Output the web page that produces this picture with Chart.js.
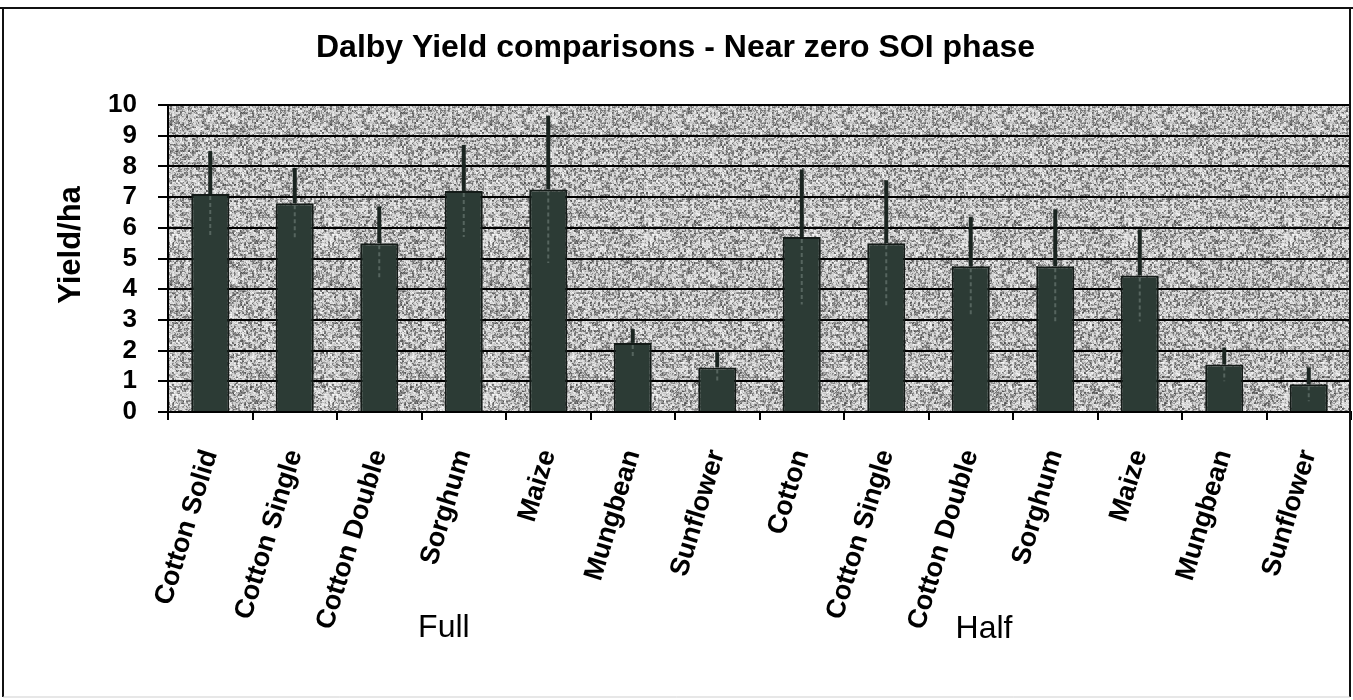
<!DOCTYPE html>
<html><head><meta charset="utf-8">
<script src="https://cdn.jsdelivr.net/npm/chart.js@4.4.1/dist/chart.umd.min.js"></script>
<style>html,body{margin:0;padding:0;background:#fff;}canvas{display:block;}</style>
</head><body>
<canvas id="c" width="1353" height="700"></canvas>
<script>
// ---- data ----
const categories = ['Cotton Solid','Cotton Single','Cotton Double','Sorghum','Maize','Mungbean','Sunflower',
                    'Cotton','Cotton Single','Cotton Double','Sorghum','Maize','Mungbean','Sunflower'];
const yieldValues = [7.1, 6.8, 5.5, 7.2, 7.25, 2.25, 1.45, 5.7, 5.5, 4.75, 4.75, 4.45, 1.55, 0.9];
const yieldErrors = [1.4, 1.15, 1.2, 1.5, 2.4, 0.45, 0.5, 2.2, 2.05, 1.6, 1.85, 1.5, 0.55, 0.55];
const yTickValues = [0,1,2,3,4,5,6,7,8,9,10];
const groupLabels = ['Full','Half'];
const titleText = 'Dalby Yield comparisons - Near zero SOI phase';
const yAxisTitle = 'Yield/ha';

const FONT = "'Liberation Sans', Arial, sans-serif";

// deterministic speckle texture for the plot background
function makeTexture(){
  const s = 160, c = document.createElement('canvas');
  c.width = s; c.height = s;
  const g = c.getContext('2d'), img = g.createImageData(s, s);
  const hash = (x, y) => {
    let h = Math.imul(x, 374761393) ^ Math.imul(y, 668265263);
    h = Math.imul(h ^ (h >>> 13), 1274126177);
    h ^= h >>> 16;
    return (h >>> 0) / 4294967296;
  };
  for (let y = 0; y < s; y++) for (let x = 0; x < s; x++) {
    const v = 0.4 * hash(x, y) + 0.6 * hash((x >> 1) + 1000, (y >> 1) + 2000);
    const gray = v < 0.45 ? 70 + (v / 0.45) * 95 : 190 + ((v - 0.45) / 0.55) * 65;
    const k = (y * s + x) * 4;
    img.data[k] = img.data[k+1] = img.data[k+2] = Math.round(gray);
    img.data[k+3] = 255;
  }
  g.putImageData(img, 0, 0);
  return c;
}
const texture = makeTexture();

const decor = {
  id: 'decor',
  beforeDraw(chart){
    const {ctx, chartArea:a} = chart;
    ctx.save();
    ctx.fillStyle = '#fff';
    ctx.fillRect(0, 0, chart.width, chart.height);
    ctx.fillStyle = ctx.createPattern(texture, 'repeat');
    ctx.fillRect(a.left, a.top, a.right - a.left, a.bottom - a.top);
    ctx.restore();
  },
  afterDraw(chart){
    const {ctx, scales:{x}} = chart;
    ctx.save();
    // outer frame
    ctx.strokeStyle = '#111'; ctx.lineWidth = 2;
    ctx.beginPath();
    ctx.moveTo(0, 8); ctx.lineTo(1353, 8);
    ctx.moveTo(3, 8); ctx.lineTo(3, 697);
    ctx.moveTo(1350, 8); ctx.lineTo(1350, 697);
    ctx.stroke();
    ctx.strokeStyle = '#cfcfcf'; ctx.lineWidth = 1;
    ctx.beginPath(); ctx.moveTo(3, 697); ctx.lineTo(1350, 697); ctx.stroke();
    // y axis title
    ctx.fillStyle = '#000';
    ctx.font = 'bold 31px ' + FONT;
    ctx.textAlign = 'center'; ctx.textBaseline = 'middle';
    ctx.translate(71, 245); ctx.rotate(-Math.PI/2);
    ctx.fillText(yAxisTitle, 0, 0);
    ctx.setTransform(1,0,0,1,0,0);
    // group labels
    ctx.font = '32px ' + FONT;
    ctx.textAlign = 'left'; ctx.textBaseline = 'alphabetic';
    const step = x.getPixelForValue(1) - x.getPixelForValue(0);
    ctx.fillText(groupLabels[0], x.getPixelForValue(3) - 0.54 * step, 637);
    ctx.fillText(groupLabels[1], x.getPixelForValue(9) - 0.18 * step, 638);
    ctx.restore();
  }
};

const errorBars = {
  id: 'errorBars',
  afterDatasetsDraw(chart){
    const ctx = chart.ctx, ys = chart.scales.y, meta = chart.getDatasetMeta(0);
    ctx.save();
    meta.data.forEach((bar, i) => {
      const v = yieldValues[i], e = yieldErrors[i], x = bar.x;
      const yT = ys.getPixelForValue(v + e), yV = ys.getPixelForValue(v), yL = ys.getPixelForValue(v - e);
      ctx.strokeStyle = '#56655f'; ctx.lineWidth = 2; ctx.setLineDash([4, 3]);
      ctx.beginPath(); ctx.moveTo(x, yV + 2); ctx.lineTo(x, yL); ctx.stroke();
      ctx.setLineDash([]);
      ctx.strokeStyle = '#1b2521'; ctx.lineWidth = 4;
      ctx.beginPath(); ctx.moveTo(x, yV); ctx.lineTo(x, yT); ctx.stroke();
    });
    ctx.restore();
  }
};

new Chart(document.getElementById('c'), {
  type: 'bar',
  data: {
    labels: categories,
    datasets: [{
      label: 'Yield',
      data: yieldValues,
      backgroundColor: '#2c3b35',
      borderColor: '#141b18',
      borderWidth: 2,
      barPercentage: 0.45,
      categoryPercentage: 1.0
    }]
  },
  options: {
    responsive: false,
    animation: false,
    devicePixelRatio: 1,
    layout: { padding: { left: 0, right: 2, top: 0, bottom: 0 } },
    plugins: {
      legend: { display: false },
      tooltip: { enabled: false },
      title: {
        display: true,
        text: titleText,
        color: '#000',
        font: { family: FONT, size: 32, weight: 'bold', lineHeight: 1.2 },
        padding: { top: 29, bottom: 37.6 }
      }
    },
    scales: {
      x: {
        offset: true,
        grid: { offset: true, drawOnChartArea: false, drawTicks: true, tickLength: 8, color: '#000', lineWidth: 2 },
        border: { display: true, color: '#000', width: 2 },
        ticks: {
          autoSkip: false, minRotation: 73, maxRotation: 73, padding: 26,
          color: '#000', font: { family: FONT, size: 27, weight: 'bold' }
        },
        afterFit(scale){ scale.height = 288; scale.paddingRight = 0; scale.paddingLeft = 0; }
      },
      y: {
        min: 0, max: 10,
        afterBuildTicks(scale){ scale.ticks = yTickValues.map(v => ({value: v})); },
        grid: { color: '#000', lineWidth: 2, drawTicks: true, tickLength: 10 },
        border: { display: true, color: '#000', width: 2 },
        ticks: { autoSkip: false, stepSize: 1, color: '#000', padding: 21, font: { family: FONT, size: 26, weight: 'bold', lineHeight: 1 } },
        afterFit(scale){ scale.width = 168; scale.paddingTop = 0; scale.paddingBottom = 0; }
      }
    }
  },
  plugins: [decor, errorBars]
});
</script>
</body></html>
